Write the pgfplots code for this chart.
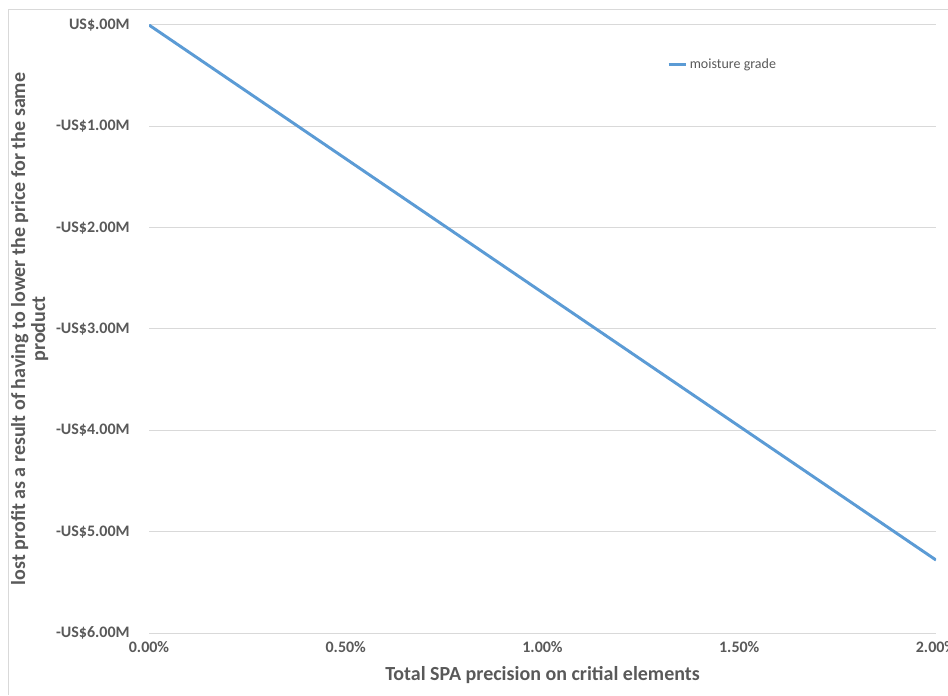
\documentclass[border=0pt]{standalone}
\usepackage{fontspec}
\setmainfont{Carlito}
\usepackage{pgfplots}
\pgfplotsset{compat=1.18}
\definecolor{exblue}{HTML}{5B9BD5}
\definecolor{txtgray}{HTML}{595959}
\definecolor{gridgray}{HTML}{D9D9D9}
\begin{document}
\begin{tikzpicture}[x=0.75pt,y=0.75pt]
\path[use as bounding box] (0,0) rectangle (948,695);
\draw[gridgray,line width=0.75pt] (8,0) -- (8,685) -- (948,685);
\begin{axis}[
  at={(111.75pt,46.5pt)}, anchor=south west,
  scale only axis, width=590.25pt, height=456pt,
  xmin=0, xmax=2, ymin=-6, ymax=0,
  axis line style={draw=none},
  xtick={0,0.5,1,1.5,2},
  xticklabels={0.00\%,0.50\%,1.00\%,1.50\%,2.00\%},
  ytick={-6,-5,-4,-3,-2,-1,0},
  yticklabels={-US\$6.00M,-US\$5.00M,-US\$4.00M,-US\$3.00M,-US\$2.00M,-US\$1.00M,US\$.00M},
  tick style={draw=none},
  ymajorgrids, grid style={gridgray,line width=0.75pt},
  ticklabel style={font=\bfseries\fontsize{12}{14}\selectfont, text=txtgray},
  xticklabel style={yshift=-3pt},
  yticklabel style={xshift=-11pt},
  xlabel={Total SPA precision on critial elements},
  xlabel style={font=\bfseries\fontsize{15}{17}\selectfont, text=txtgray, yshift=-3pt},
  ylabel={lost profit as a result of having to lower the price for the same\\product},
  ylabel style={font=\bfseries\fontsize{15}{15}\selectfont, text=txtgray, align=center, yshift=-1pt},
  legend style={at={(0.658,0.935)}, anchor=west, draw=none, fill=none,
    font=\fontsize{10.5}{12}\selectfont, text=txtgray, inner sep=0pt},
  legend image post style={xscale=0.75},
  legend cell align=left,
]
\addplot[exblue, line width=2.2pt, line join=round] coordinates {
(0,0) (0.25,-0.66) (0.5,-1.32) (0.75,-1.98) (1,-2.64) (1.25,-3.30) (1.5,-3.96) (1.75,-4.62) (2,-5.28)
};
\addlegendentry{moisture grade}
\end{axis}
\end{tikzpicture}
\end{document}
